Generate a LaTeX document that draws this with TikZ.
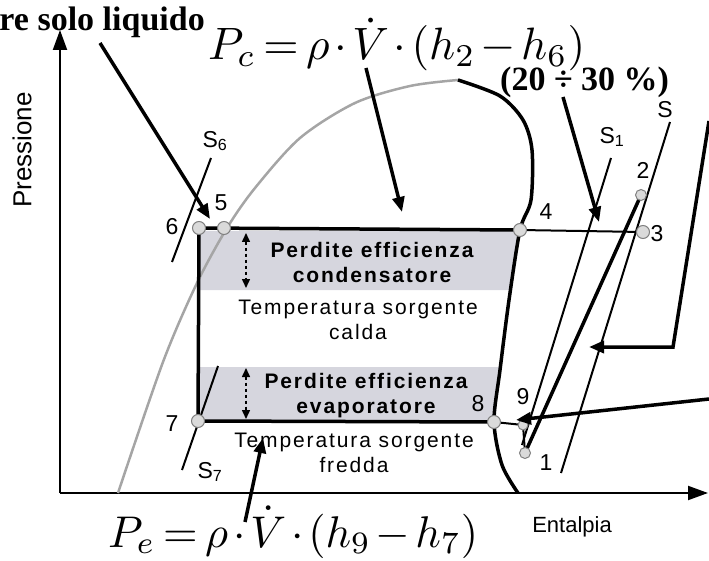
\documentclass[tikz,border=0pt]{standalone}
\usepackage{amsmath,amssymb}
\usepackage{graphicx}
\usepackage{fontspec}
\newfontfamily\arialfont{Liberation Sans}
\newfontfamily\arialspaced[LetterSpace=9]{Liberation Sans}
\newfontfamily\timesfont{Liberation Serif}
\usepackage{tikz}
\usetikzlibrary{positioning,arrows.meta}

\definecolor{bandgrey}{RGB}{214,214,222}
\definecolor{domegrey}{RGB}{165,165,165}
\definecolor{markgrey}{RGB}{218,218,218}

\newcommand{\tightmath}[1]{{\medmuskip=2mu\thickmuskip=3mu $#1$}}

\begin{document}
\begin{tikzpicture}[x=1pt, y=-1pt,
			statept/.style={circle, draw=gray, fill=markgrey, line width=1pt, inner sep=0pt, minimum size=13pt},
			num/.style={font=\arialfont\fontsize{23}{25}\selectfont, inner sep=0pt},
			band/.style={font=\arialspaced\fontsize{21}{25}\selectfont, align=center, inner sep=0pt},
			formula/.style={inner sep=0pt},
			thickline/.style={line width=3.5pt},
			thinline/.style={line width=2pt},
			arrow/.style={-{Triangle[length=15pt,width=12pt]}, line width=3.5pt},
			axis/.style={-{Triangle[length=20pt,width=14pt]}, line width=2pt},
			dasharrow/.style={{Triangle[length=9pt,width=8pt]}-{Triangle[length=9pt,width=8pt]}, dashed, line width=1.5pt}]
			
			\useasboundingbox (0,0) rectangle (709,561);
			
			% grey bands of the losses
			\fill[bandgrey] (199,231) -- (518,231) -- (511,290) -- (199,290) -- cycle;
			\fill[bandgrey] (199,367) -- (500,367) -- (494,420) -- (199,420) -- cycle;
			
			% axes
			\coordinate (origin) at (60,493);
			\coordinate (ytop) at (60,30);
			\coordinate (xend) at (708,493);
			\draw[axis] (origin) -- (ytop);
			\draw[axis] (origin) -- (xend);
			
			% saturation dome
			\draw[domegrey, line width=2.5pt] plot[smooth] coordinates {(118,493) (163,362) (197,283) (227,228) (255,188) (300,138) (355,103) (410,86) (458,80)};
			\draw[thickline] plot[smooth] coordinates {(458,80) (500,96) (523,120) (532,150) (531,200) (520,230) (509,300) (500,370) (494,422) (502,465) (518,493)};
			
			% states of the cycle
			\coordinate (p6) at (199,228);
			\coordinate (p5) at (224,228);
			\coordinate (p4) at (520,230);
			\coordinate (p3) at (643,232);
			\coordinate (p2) at (641,195);
			\coordinate (p7) at (198,421);
			\coordinate (p8) at (494,422);
			\coordinate (p9) at (523,425);
			\coordinate (p1) at (525,453);
			
			\draw[thickline] (p6) -- (p4);
			\draw[thinline] (p4) -- (p3);
			\draw[thickline] (p6) -- (p7);
			\draw[thickline] (p7) -- (p8);
			\draw[thinline] (p8) -- (p9);
			\draw[thinline] (p9) -- (p1);
			\draw[thickline] (p1) -- (p2);
			
			% isentropic lines
			\coordinate (s6top) at (211,158);
			\coordinate (s6bot) at (172,262);
			\coordinate (s7top) at (218,366);
			\coordinate (s7bot) at (182,470);
			\coordinate (s1top) at (611,158);
			\coordinate (s1bot) at (522,445);
			\coordinate (stop) at (670,122);
			\coordinate (sbot) at (561,473);
			\draw[thinline] (s6top) -- (s6bot);
			\draw[thinline] (s7top) -- (s7bot);
			\draw[thinline] (s1top) -- (s1bot);
			\draw[thinline] (stop) -- (sbot);
			
			\node[statept] (n6) at (p6) {};
			\node[statept] (n5) at (p5) {};
			\node[statept] (n4) at (p4) {};
			\node[statept] (n3) at (p3) {};
			\node[statept, minimum size=11pt] (n2) at (p2) {};
			\node[statept] (n7) at (p7) {};
			\node[statept] (n8) at (p8) {};
			\node[statept, minimum size=10pt] (n9) at (p9) {};
			\node[statept, minimum size=11pt] (n1) at (p1) {};
			
			\node[num] (l6) at (172,227) {6};
			\node[num] (l5) at (221,203) {5};
			\node[num] (l4) at (546,212) {4};
			\node[num] (l3) at (657,234) {3};
			\node[num] (l2) at (643,170) {2};
			\node[num] (l7) at (172,424) {7};
			\node[num] (l8) at (478,404) {8};
			\node[num] (l9) at (523,397) {9};
			\node[num] (l1) at (546,463) {1};
			\node[num] (ls6) at (215,141) {S\textsubscript{6}};
			\node[num] (ls7) at (210,472) {S\textsubscript{7}};
			\node[num] (ls1) at (612,137) {S\textsubscript{1}};
			\node[num] (ls) at (665,110) {S};
			
			% texts in the cycle
			\node[band] (cond) at (372,262) {\bfseries Perdite efficienza\\\bfseries condensatore};
			\node[band] (calda) at (358,320) {Temperatura sorgente\\calda};
			\node[band] (evap) at (366,396) {\bfseries Perdite efficienza\\\bfseries evaporatore};
			\node[band] (fredda) at (354,453) {Temperatura sorgente\\fredda};
			
			\coordinate (cdtop) at (246,233);
			\coordinate (cdbot) at (246,288);
			\coordinate (evtop) at (246,368);
			\coordinate (evbot) at (246,419);
			\draw[dasharrow] (cdtop) -- (cdbot);
			\draw[dasharrow] (evtop) -- (evbot);
			
			% axis titles
			\node[rotate=90, font=\arialfont\fontsize{26}{28}\selectfont] (pres) at (22,150) {Pressione};
			\node[font=\arialfont\fontsize{22}{24}\selectfont] (ent) at (572,527) {Entalpia};
			
			% notes and formulas
			\node[anchor=base east, font=\timesfont\bfseries\fontsize{34}{36}\selectfont, inner sep=0pt] (liq) at (205,31) {re solo liquido};
			\node[anchor=base west, font=\timesfont\bfseries\fontsize{34}{36}\selectfont, inner sep=0pt] (perc) at (500,91) {(20 ÷ 30 \%)};
			\node[formula, anchor=base west] (pc) at (208,60) {\resizebox{377pt}{!}{\tightmath{P_c = \rho\cdot\dot V\cdot(h_2-h_6)}}};
			\node[formula, anchor=base west] (pe) at (108,547) {\resizebox{370pt}{!}{\tightmath{P_e = \rho\cdot\dot V\cdot(h_9-h_7)}}};
			
			\coordinate (liqtail) at (100,43);
			\coordinate (liqtip) at (210,219);
			\coordinate (pctail) at (366,68);
			\coordinate (pctip) at (402,212);
			\coordinate (perctail) at (563,97);
			\coordinate (perctip) at (599,222);
			\coordinate (rtop) at (709,121);
			\coordinate (rcorner) at (673,347);
			\coordinate (rtip) at (589,347);
			\coordinate (rlow) at (709,399);
			\coordinate (rlowtip) at (516,420);
			\coordinate (petail) at (245,522);
			\coordinate (petip) at (263,438);
			\draw[arrow] (liqtail) -- (liqtip);
			\draw[arrow] (pctail) -- (pctip);
			\draw[arrow] (perctail) -- (perctip);
			\draw[arrow] (rtop) -- (rcorner) -- (rtip);
			\draw[arrow] (rlow) -- (rlowtip);
			\draw[arrow] (petail) -- (petip);
			
		\end{tikzpicture}
\end{document}
